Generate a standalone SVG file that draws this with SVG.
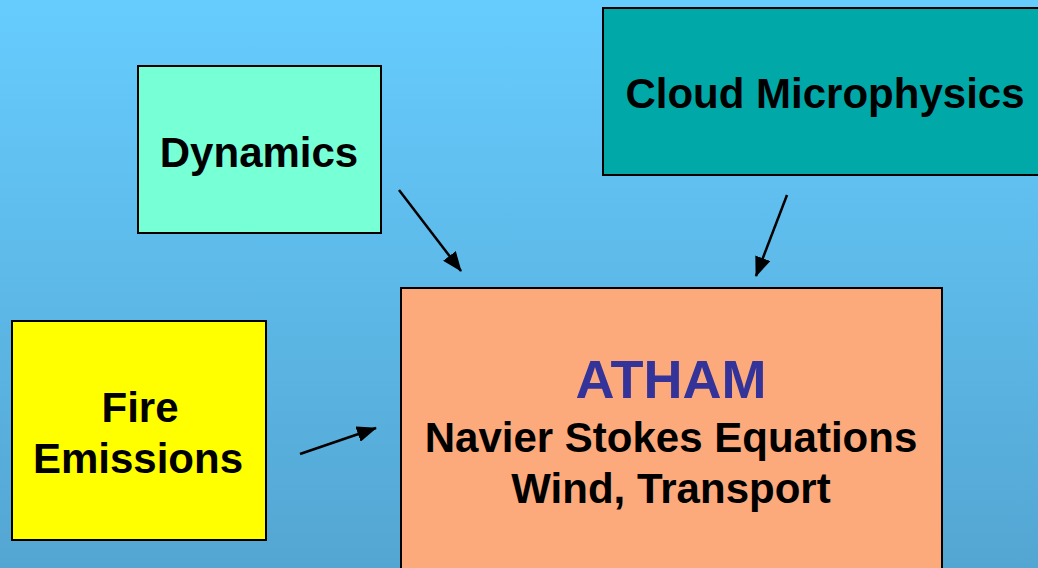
<svg xmlns="http://www.w3.org/2000/svg" width="1038" height="568" viewBox="0 0 1038 568">
<defs>
<linearGradient id="bg" x1="0" y1="0" x2="0" y2="1">
<stop offset="0" stop-color="#66CCFE"/>
<stop offset="1" stop-color="#54A6D2"/>
</linearGradient>
<marker id="ah" markerWidth="20" markerHeight="16" refX="19" refY="8" orient="auto" markerUnits="userSpaceOnUse" viewBox="0 0 20 16">
<path d="M0,0 L20,8 L0,16 z" fill="#000"/>
</marker>
<style>
.box{stroke:#000;stroke-width:2}
.t{font-family:"Liberation Sans",Arial,sans-serif;font-weight:bold;font-size:42px;fill:#000;text-anchor:middle}
.c{stroke:#000;stroke-width:2.5;fill:none;marker-end:url(#ah)}
</style>
</defs>
<rect width="1038" height="568" fill="url(#bg)"/>
<g id="dynamics">
<rect class="box" x="138" y="66" width="243" height="167" fill="#77FFD6"/>
<text class="t" x="259" y="167">Dynamics</text>
</g>
<g id="cloud">
<rect class="box" x="603" y="8" width="440" height="167" fill="#00A8A8"/>
<text class="t" x="825" y="108">Cloud Microphysics</text>
</g>
<g id="fire">
<rect class="box" x="12" y="321" width="254" height="219" fill="#FFFF00"/>
<text class="t" x="140" y="422">Fire</text>
<text class="t" x="138" y="473">Emissions</text>
</g>
<g id="atham">
<rect class="box" x="401" y="288" width="541" height="290" fill="#FCAA7C"/>
<text class="t" x="671" y="398" style="font-size:54px;fill:#333399">ATHAM</text>
<text class="t" x="671" y="452">Navier Stokes Equations</text>
<text class="t" x="671" y="503">Wind, Transport</text>
</g>
<g id="connectors">
<line class="c" x1="399" y1="190" x2="461" y2="271"/>
<line class="c" x1="787" y1="195" x2="756" y2="276"/>
<line class="c" x1="300" y1="454" x2="376" y2="428"/>
</g>
</svg>
